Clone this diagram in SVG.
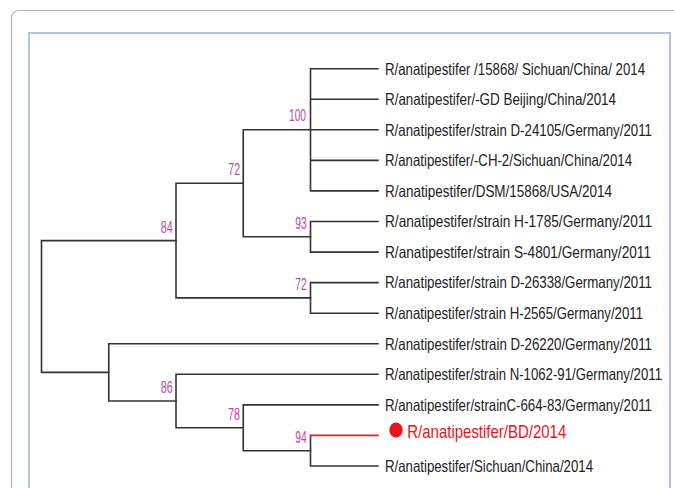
<svg xmlns="http://www.w3.org/2000/svg" width="674" height="488" viewBox="0 0 674 488">
<style>
.br{fill:none;stroke:#333;stroke-width:1.6;stroke-linecap:square}
.red{stroke:#e3262b}
.lf{font-family:"Liberation Sans",Arial,sans-serif;font-size:16.3px;fill:#222}
.bs{font-family:"Liberation Sans",Arial,sans-serif;font-size:16px;fill:#c2479f;text-anchor:end}
</style>
<rect width="674" height="488" fill="#fff"/>
<rect x="11.5" y="10.5" width="700" height="500" rx="7" fill="none" stroke="#b4b4b4" stroke-width="1.2"/>
<rect x="29" y="33" width="641" height="480" fill="none" stroke="#abc6e3" stroke-width="2"/>
<g id="connectors">
<path class="br" d="M41.5,240.6V372.4M41.5,240.6H176M41.5,372.4H108.75"/>
<path class="br" d="M176,183.3V297.9M176,183.3H243.25M176,297.9H310.5"/>
<path class="br" d="M243.25,129.8V236.8M243.25,129.8H310.5M243.25,236.8H310.5"/>
<path class="br" d="M310.5,68.7V190.9M310.5,68.7H378M310.5,99.3H378M310.5,129.8H378M310.5,160.4H378M310.5,190.9H378"/>
<path class="br" d="M310.5,221.5V252.1M310.5,221.5H378M310.5,252.1H378"/>
<path class="br" d="M310.5,282.6V313.2M310.5,282.6H378M310.5,313.2H378"/>
<path class="br" d="M108.75,343.7V401.05M108.75,343.7H378M108.75,401.05H176"/>
<path class="br" d="M176,374.3V427.8M176,374.3H378M176,427.8H243.25"/>
<path class="br" d="M243.25,404.9V450.7M243.25,404.9H378M243.25,450.7H310.5"/>
<path class="br" d="M310.5,435.4V466M310.5,466H378"/>
<path class="br red" d="M311.3,435.4H378"/>
</g>
<g id="bootstrap">
<text class="bs" x="306" y="120.7" textLength="17" lengthAdjust="spacingAndGlyphs">100</text>
<text class="bs" x="240" y="175" textLength="11.7" lengthAdjust="spacingAndGlyphs">72</text>
<text class="bs" x="172.7" y="232.7" textLength="12" lengthAdjust="spacingAndGlyphs">84</text>
<text class="bs" x="306.7" y="228.7" textLength="11.4" lengthAdjust="spacingAndGlyphs">93</text>
<text class="bs" x="306.7" y="290" textLength="11.4" lengthAdjust="spacingAndGlyphs">72</text>
<text class="bs" x="172.7" y="393.3" textLength="12" lengthAdjust="spacingAndGlyphs">86</text>
<text class="bs" x="240" y="420" textLength="12" lengthAdjust="spacingAndGlyphs">78</text>
<text class="bs" x="306.7" y="443.3" textLength="11.4" lengthAdjust="spacingAndGlyphs">94</text>
</g>
<g id="leaf1" transform="translate(385,74.5) scale(0.8,1)"><text class="lf" textLength="325" lengthAdjust="spacingAndGlyphs">R/anatipestifer /15868/ Sichuan/China/ 2014</text></g>
<g id="leaf2" transform="translate(385,105.1) scale(0.8,1)"><text class="lf" textLength="288.75" lengthAdjust="spacingAndGlyphs">R/anatipestifer/-GD Beijing/China/2014</text></g>
<g id="leaf3" transform="translate(385,135.6) scale(0.8,1)"><text class="lf" textLength="333.75" lengthAdjust="spacingAndGlyphs">R/anatipestifer/strain D-24105/Germany/2011</text></g>
<g id="leaf4" transform="translate(385,166.2) scale(0.8,1)"><text class="lf" textLength="308.75" lengthAdjust="spacingAndGlyphs">R/anatipestifer/-CH-2/Sichuan/China/2014</text></g>
<g id="leaf5" transform="translate(385,196.7) scale(0.8,1)"><text class="lf" textLength="283.75" lengthAdjust="spacingAndGlyphs">R/anatipestifer/DSM/15868/USA/2014</text></g>
<g id="leaf6" transform="translate(385,227.3) scale(0.8,1)"><text class="lf" textLength="333.75" lengthAdjust="spacingAndGlyphs">R/anatipestifer/strain H-1785/Germany/2011</text></g>
<g id="leaf7" transform="translate(385,257.9) scale(0.8,1)"><text class="lf" textLength="332.5" lengthAdjust="spacingAndGlyphs">R/anatipestifer/strain S-4801/Germany/2011</text></g>
<g id="leaf8" transform="translate(385,288.4) scale(0.8,1)"><text class="lf" textLength="333.75" lengthAdjust="spacingAndGlyphs">R/anatipestifer/strain D-26338/Germany/2011</text></g>
<g id="leaf9" transform="translate(385,319) scale(0.8,1)"><text class="lf" textLength="322.5" lengthAdjust="spacingAndGlyphs">R/anatipestifer/strain H-2565/Germany/2011</text></g>
<g id="leaf10" transform="translate(385,349.5) scale(0.8,1)"><text class="lf" textLength="333.75" lengthAdjust="spacingAndGlyphs">R/anatipestifer/strain D-26220/Germany/2011</text></g>
<g id="leaf11" transform="translate(385,380.1) scale(0.8,1)"><text class="lf" textLength="346.25" lengthAdjust="spacingAndGlyphs">R/anatipestifer/strain N-1062-91/Germany/2011</text></g>
<g id="leaf12" transform="translate(385,410.7) scale(0.8,1)"><text class="lf" textLength="333.75" lengthAdjust="spacingAndGlyphs">R/anatipestifer/strainC-664-83/Germany/2011</text></g>
<g id="leaf13">
<ellipse cx="396" cy="430" rx="6.7" ry="7.4" fill="#e8141c"/>
<g transform="translate(407.3,437.5) scale(0.85,1)"><text font-family="Liberation Sans,Arial,sans-serif" font-size="18" fill="#e8141c" textLength="187" lengthAdjust="spacingAndGlyphs">R/anatipestifer/BD/2014</text></g>
</g>
<g id="leaf14" transform="translate(385,471.8) scale(0.8,1)"><text class="lf" textLength="260" lengthAdjust="spacingAndGlyphs">R/anatipestifer/Sichuan/China/2014</text></g>
</svg>
